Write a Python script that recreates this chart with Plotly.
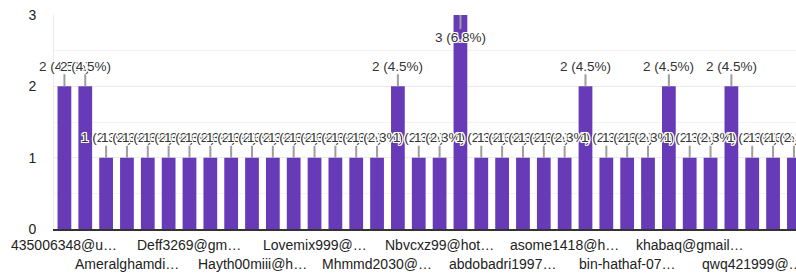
import plotly.graph_objects as go

# Response counts per respondent (36 bars, sorted as in the reference)
counts = [2, 2, 1, 1, 1, 1, 1, 1, 1, 1,
          1, 1, 1, 1, 1, 1, 2, 1, 1, 3,
          1, 1, 1, 1, 1, 2, 1, 1, 1, 2,
          1, 1, 2, 1, 1, 1]

# Visible category labels (every third bar, alternating rows)
row1_labels = ["435006348@u…", "Deff3269@gm…", "Lovemix999@…",
               "Nbvcxz99@hot…", "asome1418@h…", "khabaq@gmail…"]
row1_positions = [0, 6, 12, 18, 24, 30]
row2_labels = ["Ameralghamdi…", "Hayth00miii@h…", "Mhmmd2030@…",
               "abdobadri1997…", "bin-hathaf-07…", "qwq421999@…"]
row2_positions = [3, 9, 15, 21, 27, 33]

y_ticks = [0, 1, 2, 3]

total = sum(counts)
x = list(range(len(counts)))

FONT = "Arial, 'Liberation Sans', sans-serif"
BAR = "#673ab7"

fig = go.Figure()
fig.add_trace(go.Bar(x=x, y=counts, marker=dict(color=BAR, line=dict(width=0)),
                     width=0.66, hoverinfo="skip"))

halo = ("1px 1px 0px white, -1px -1px 0px white, 1px -1px 0px white, "
        "-1px 1px 0px white, 0px 1px 0px white, 0px -1px 0px white, "
        "1px 0px 0px white, -1px 0px 0px white")

annotations = []
for i, c in enumerate(counts):
    pct = c / total * 100
    below = c >= max(y_ticks)
    annotations.append(dict(
        x=i, y=c, xref="x", yref="y",
        text=f"{c} ({pct:.1f}%)",
        showarrow=True, arrowhead=0, arrowwidth=2, arrowcolor="#9e9e9e",
        ax=0, ay=(22 if below else -20), standoff=0, borderpad=0,
        font=dict(family=FONT, size=13.5, color="#333333", shadow=halo),
    ))

for lab, pos in zip(row1_labels, row1_positions):
    annotations.append(dict(x=pos, y=0, xref="x", yref="paper", text=lab,
                            showarrow=False, yanchor="top", yshift=-6,
                            font=dict(family=FONT, size=14, color="#222222")))
for lab, pos in zip(row2_labels, row2_positions):
    annotations.append(dict(x=pos, y=0, xref="x", yref="paper", text=lab,
                            showarrow=False, yanchor="top", yshift=-25,
                            font=dict(family=FONT, size=14, color="#222222")))

fig.update_layout(
    width=796, height=275,
    margin=dict(l=54, r=0, t=15, b=46),
    paper_bgcolor="white", plot_bgcolor="white",
    showlegend=False,
    font=dict(family=FONT, size=14, color="#222222"),
    annotations=annotations,
    xaxis=dict(range=[-0.5, 35.1], showticklabels=False, ticks="",
               showgrid=False, zeroline=False,
               showline=True, linecolor="#333333", linewidth=2),
    yaxis=dict(range=[0, 3], tickvals=y_ticks, ticks="",
               ticklabelstandoff=14,
               showgrid=True, gridcolor="#ebebeb", gridwidth=1,
               minor=dict(dtick=0.5, showgrid=True, gridcolor="#f3f3f3"),
               zeroline=False, showline=True, linecolor="#ebebeb", linewidth=1,
               tickfont=dict(family=FONT, size=14, color="#222222")),
)

fig.write_html("out.html", config={"displayModeBar": False},
               post_script="document.body.style.margin='0';document.body.style.overflow='hidden';")
